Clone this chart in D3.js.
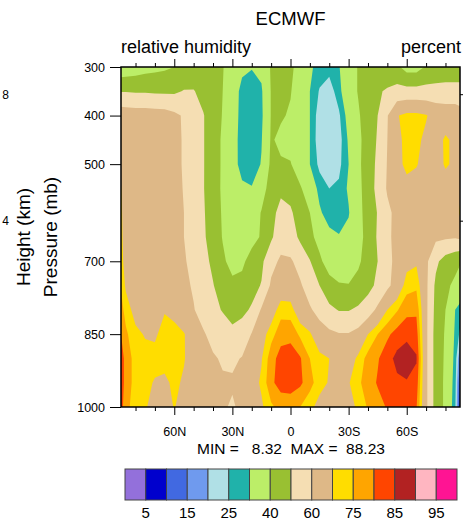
<!DOCTYPE html>
<html>
<head>
<meta charset="utf-8">
<script src="https://cdn.jsdelivr.net/npm/d3@7"></script>
<style>
  html, body { margin: 0; padding: 0; background: #fff; }
  svg { display: block; font-family: "Liberation Sans", Arial, Helvetica, sans-serif; }
</style>
</head>
<body>
<svg id="chart" width="463" height="523"></svg>
<script>
// Zonal-mean relative humidity (%), columns = latitude, rows = pressure level
const latitudes = [87.5, 85, 80, 75, 70, 65, 60, 55, 50, 45, 40, 35, 30, 25, 20, 15, 10, 5, 0,
  -5, -10, -15, -20, -25, -30, -35, -40, -45, -50, -55, -60, -65, -70, -75, -80, -85, -87.5];
const pressureLevels = [300, 350, 400, 450, 500, 550, 600, 650, 700, 750, 800, 850, 900, 950, 1000];

const rh300  = [33,33.5,35,36.5,37.5,38.5,40,42,44,44,43,40.5,35,31.5,30.5,32,41,44,41.5,37,31,28,27,29.5,36,40.5,43,45,44,42,36,36,41,43,44,44,44];
const rh350  = [49.5,49.5,49,49,48.5,48.5,48.5,50.5,50.5,47,43.5,40,34,28,26,29,40.5,43,40.5,35,30,24.5,22,28,36,40.5,45,49,51,53.5,53.5,53.5,53.5,53.5,53.5,53.5,53.5];
const rh400  = [66,65.5,65,65,64.5,64,62,59,55,50.5,45,39.5,34,27.5,25.5,28.5,40.5,41,39,34,30,22,20.5,24,33,39,44.5,50,59.5,69.5,72,72,70.5,67,66,66,64];
const rh450  = [66,65.5,65,65,64.5,64,63,59,55,50.5,45,38.5,33,27.5,25.5,29.5,41,38,37,33,30,21.5,20.5,22.5,31,38,44,51,60,68,72,71.5,68.5,67,71,68.5,65];
const rh500  = [68,66,65,65,64.5,64,63,59,55,50.5,45,38.5,32.5,28,26,30.5,42,41,40.5,35,30,23.5,21,23.5,30,38,45,52,60.5,68,71.5,70.5,67,66,71,68.5,66];
const rh550  = [70.3,66,65,65,64.5,64,63,59.5,55,50.5,44.5,38.5,33.5,31,30.5,36,44,48,46,41,35,28,25,26,31,37.5,44.5,53,61,66,68,67,66,65,66,66,67.5];
const rh600  = [71,66.5,65,64.5,64,64,63,60,55.5,51,45,39,35,34,35,40.5,47,53,51.5,45,40,31,27,26.5,29.5,37,44,50.5,58,62.5,64,64,63.5,63,63,64,71.5];
const rh650  = [71.5,66.5,65,64.5,64,63.5,63,60,56,51.5,45.5,39.5,36,35,36.5,41,48.5,56,55,48,42.5,36.5,32,30.5,32,36,44,51,58,63,64,64,63,62,61.5,61,62];
const rh700  = [72.5,67,65,64.5,64,63.5,63,61,57,53,48,41.5,37,38,44,48,57,61.5,61,57,50.5,42,35,33,34,38.5,44,50,57,63,67.5,69,62,52,46,43,41];
const rh750  = [74.5,69,65.5,64.5,64,64.5,64,62,59,54,50.5,45,42,43,47,50.5,61.5,65,65,61,56,50,44,41,40.5,43,47,52,58,64,73,74,62,48,42,38,35];
const rh800  = [77,73,67.5,65,66,69.5,68,63,60.5,56,52,49.5,47,48,51,61,66,73,72.5,65,61,57,52,49.5,49.5,51.5,55,62,70,74.5,78.5,79,62,47,40,30,28];
const rh850  = [80,76,71.5,69.5,69,72.5,72,70.5,65,61,57,54,52,54,60.5,67,73,78,78.5,74,71,64,62,60.5,60.5,63,70,75,79,82,83.5,82.5,62,46,39,29,24];
const rh900  = [83,78,73,72,72,72.5,72,70.5,66,63,61,59,58.5,60.5,66,69.5,78,82,82.5,80.5,75,72,70,66,66,71.5,77,79.5,83,86.5,88.23,85.5,62,46,38.5,28,15];
const rh950  = [83,78,73,71.5,69.5,68.5,71.5,69,64,62,61,61,61,63,67,71,79,82,82.5,81,77,72,69.5,65,69.5,74,77.5,80.5,84,84,84.5,83,62,46,38,27,10];
const rh1000 = [82,77,72,71,66,66,70.5,66,63,62,62,61,59,62,66,69,74,77,77,75,71.5,68,64,63,66,72,75.5,78,80.5,81,81.5,80.5,62,46,38,26,8.32];

const relHumidity = [rh300, rh350, rh400, rh450, rh500, rh550, rh600, rh650,
  rh700, rh750, rh800, rh850, rh900, rh950, rh1000];

// Shading levels and the 16 fill colours (below first level ... above last level)
const contourLevels = [5, 10, 15, 20, 25, 30, 40, 50, 60, 70, 75, 80, 85, 90, 95];
const fillColors = ["#9370DB", "#0000CD", "#4169E1", "#6F9AEE", "#B0E0E6", "#20B2AA",
  "#BCEE68", "#99C032", "#F5DEB3", "#DEB887", "#FFDD00", "#FFA500", "#FF4500",
  "#B22222", "#FFB6C1", "#FF1493"];
const colorbarLabels = ["5", "15", "25", "40", "60", "75", "85", "95"];

// Axis ticks
const latTicks = [60, 30, 0, -30, -60];
const latTickLabels = ["60N", "30N", "0", "30S", "60S"];
const latMinorTicks = [80, 70, 50, 40, 20, 10, -10, -20, -40, -50, -70, -80];
const pressureTicks = [300, 400, 500, 700, 850, 1000];
const heightTicksKm = [4, 8];

const svg = d3.select("#chart");
const plot = { left: 121, right: 460, top: 67, bottom: 407 };

const x = d3.scaleLinear().domain([87.5, -87.5]).range([plot.left, plot.right]);
const y = d3.scaleLinear().domain([300, 1000]).range([plot.top, plot.bottom]);

// Grid index -> coordinate (d3.contours puts sample i at i + 0.5)
const nx = latitudes.length, ny = pressureLevels.length;
const colToLat = d3.scaleLinear().domain(d3.range(nx)).range(latitudes);
const rowToP = d3.scaleLinear().domain(d3.range(ny)).range(pressureLevels);
const clampCol = v => Math.max(0, Math.min(nx - 1, v - 0.5));
const clampRow = v => Math.max(0, Math.min(ny - 1, v - 0.5));

const gridToScreen = d3.geoTransform({
  point(cx, cy) {
    this.stream.point(x(colToLat(clampCol(cx))), y(rowToP(clampRow(cy))));
  }
});
const path = d3.geoPath(gridToScreen);

const values = relHumidity.flat();
const bands = d3.contours().size([nx, ny]).thresholds(contourLevels)(values);

svg.append("defs").append("clipPath").attr("id", "plot-clip")
  .append("rect")
  .attr("x", plot.left).attr("y", plot.top)
  .attr("width", plot.right - plot.left).attr("height", plot.bottom - plot.top);

const field = svg.append("g").attr("clip-path", "url(#plot-clip)");
field.append("rect")
  .attr("x", plot.left).attr("y", plot.top)
  .attr("width", plot.right - plot.left).attr("height", plot.bottom - plot.top)
  .attr("fill", fillColors[0]);
field.selectAll("path.band")
  .data(bands)
  .join("path")
  .attr("class", "band")
  .attr("d", path)
  .attr("fill", (d, i) => fillColors[i + 1])
  .attr("stroke", "none");

// Axes
const tickFont = "12.5px";

function styleAxis(g) {
  g.select(".domain").remove();
  g.selectAll("line").attr("stroke", "#000").attr("stroke-width", 1);
}

const bottomMajor = svg.append("g")
  .attr("transform", `translate(0,${plot.bottom})`)
  .call(d3.axisBottom(x).tickValues(latTicks).tickSize(8).tickSizeOuter(0)
    .tickFormat((d, i) => latTickLabels[i]));
styleAxis(bottomMajor);
bottomMajor.selectAll("text")
  .attr("y", 29).attr("dy", 0)
  .style("font-size", tickFont).attr("fill", "#000");

svg.append("g")
  .attr("transform", `translate(0,${plot.bottom})`)
  .call(d3.axisBottom(x).tickValues(latMinorTicks).tickSize(4).tickSizeOuter(0).tickFormat(""))
  .call(styleAxis);

svg.append("g")
  .attr("transform", `translate(0,${plot.top})`)
  .call(d3.axisTop(x).tickValues(latTicks).tickSize(8).tickSizeOuter(0).tickFormat(""))
  .call(styleAxis);

svg.append("g")
  .attr("transform", `translate(0,${plot.top})`)
  .call(d3.axisTop(x).tickValues(latMinorTicks).tickSize(4).tickSizeOuter(0).tickFormat(""))
  .call(styleAxis);

const leftAxis = svg.append("g")
  .attr("transform", `translate(${plot.left},0)`)
  .call(d3.axisLeft(y).tickValues(pressureTicks).tickSize(11).tickPadding(5).tickSizeOuter(0)
    .tickFormat(d3.format("d")));
styleAxis(leftAxis);
leftAxis.selectAll("text").style("font-size", tickFont).attr("fill", "#000");

// Standard-atmosphere height (km) -> pressure (mb)
const heightToPressure = km => 1013.25 * Math.pow(1 - 2.25577e-5 * km * 1000, 5.25588);

const rightAxis = svg.append("g")
  .attr("transform", `translate(${plot.right},0)`)
  .call(d3.axisRight(y).tickValues(heightTicksKm.map(heightToPressure)).tickSize(7)
    .tickSizeOuter(0).tickFormat(""));
styleAxis(rightAxis);

svg.append("g").selectAll("text")
  .data(heightTicksKm)
  .join("text")
  .attr("x", 5.5)
  .attr("y", d => y(heightToPressure(d)) + 4.5)
  .attr("text-anchor", "middle")
  .style("font-size", "12px")
  .text(d => d);

// Frame
svg.append("rect")
  .attr("x", plot.left).attr("y", plot.top)
  .attr("width", plot.right - plot.left).attr("height", plot.bottom - plot.top)
  .attr("fill", "none").attr("stroke", "#000").attr("stroke-width", 1.5);

// Titles
svg.append("text")
  .attr("x", (plot.left + plot.right) / 2).attr("y", 25)
  .attr("text-anchor", "middle").style("font-size", "18.5px")
  .text("ECMWF");
svg.append("text")
  .attr("x", plot.left).attr("y", 53)
  .style("font-size", "18px")
  .text("relative humidity");
svg.append("text")
  .attr("x", 461).attr("y", 53)
  .attr("text-anchor", "end").style("font-size", "18px")
  .text("percent");

svg.append("text")
  .attr("transform", "translate(30,237) rotate(-90)")
  .attr("text-anchor", "middle").style("font-size", "19px")
  .text("Height (km)");
svg.append("text")
  .attr("transform", "translate(57,237) rotate(-90)")
  .attr("text-anchor", "middle").style("font-size", "19px")
  .text("Pressure (mb)");

// Field extremes
const fmt = d3.format(".2f");
const minVal = d3.min(values), maxVal = d3.max(values);
svg.append("text")
  .attr("x", 291).attr("y", 454)
  .attr("text-anchor", "middle").style("font-size", "15.5px")
  .style("white-space", "pre").attr("xml:space", "preserve")
  .text(`MIN =   ${fmt(minVal)}  MAX =  ${fmt(maxVal)}`);

// Colour bar
const bar = { left: 125, right: 457, top: 469, bottom: 500 };
const barX = d3.scaleLinear().domain([0, fillColors.length]).range([bar.left, bar.right]);
const cb = svg.append("g");
cb.selectAll("rect")
  .data(fillColors)
  .join("rect")
  .attr("x", (d, i) => barX(i))
  .attr("y", bar.top)
  .attr("width", (d, i) => barX(i + 1) - barX(i))
  .attr("height", bar.bottom - bar.top)
  .attr("fill", d => d)
  .attr("stroke", "#444").attr("stroke-width", 1);
cb.selectAll("text")
  .data(colorbarLabels)
  .join("text")
  .attr("x", (d, i) => barX(2 * i + 1))
  .attr("y", 518)
  .attr("text-anchor", "middle")
  .style("font-size", "15px")
  .text(d => d);
</script>
</body>
</html>
